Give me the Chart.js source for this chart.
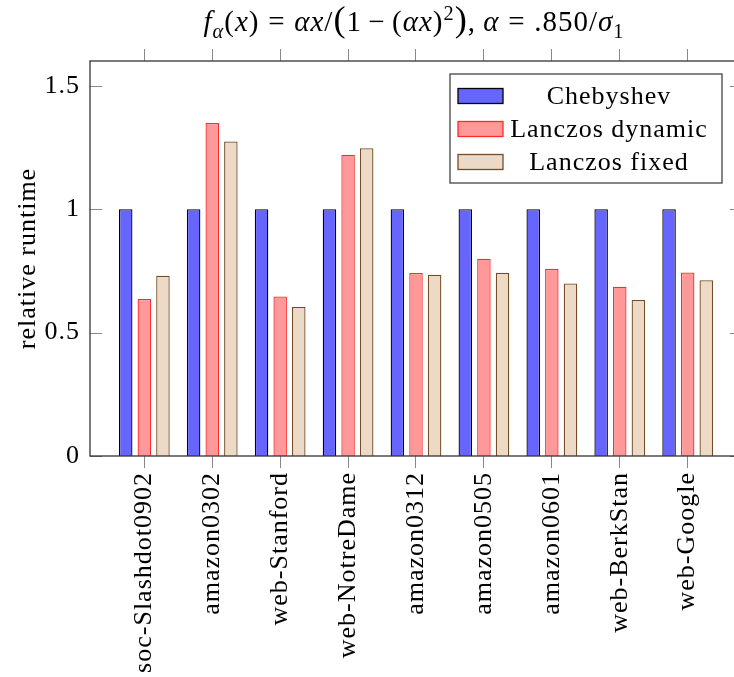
<!DOCTYPE html>
<html>
<head>
<meta charset="utf-8">
<script src="https://cdn.jsdelivr.net/npm/chart.js@4.4.0/dist/chart.umd.min.js"></script>
<style>
html, body { margin: 0; padding: 0; overflow: hidden; background: #fff; }
#wrap { position: relative; width: 734px; height: 677px; overflow: hidden; background: #fff; }
#chart { position: absolute; left: 0; top: 0; }
#title {
  position: absolute; left: 414px; top: 6px; transform: translateX(-50%);
  white-space: nowrap; font-family: "Liberation Serif", "DejaVu Serif", serif;
  font-size: 29px; line-height: 30px; color: #000; letter-spacing: 1px;
}
#title sub, #title sup { font-size: 0.7em; line-height: 0; }
#title .big { font-size: 1.25em; line-height: 0; }
#title .rel { margin: 0 0.3em; }
#title .bin { margin: 0 0.22em; }
#title .sep { margin-right: 0.25em; }
</style>
</head>
<body>
<div id="wrap">
  <canvas id="chart" width="746" height="677"></canvas>
  <div id="title"><i>f</i><sub><i>α</i></sub>(<i>x</i>)<span class="rel">=</span><i>αx</i>/<span class="big">(</span>1<span class="bin">−</span>(<i>αx</i>)<sup>2</sup><span class="big">)</span><span class="sep">,</span><i>α</i><span class="rel">=</span>.850/<i>σ</i><sub>1</sub></div>
</div>
<script>
// ---- data ----
const categories = ["soc-Slashdot0902", "amazon0302", "web-Stanford", "web-NotreDame", "amazon0312", "amazon0505", "amazon0601", "web-BerkStan", "web-Google"];
const seriesNames = ["Chebyshev", "Lanczos dynamic", "Lanczos fixed"];
const chebyshev = [1, 1, 1, 1, 1, 1, 1, 1, 1];
const lanczosDynamic = [0.636, 1.349, 0.646, 1.220, 0.741, 0.799, 0.758, 0.686, 0.743];
const lanczosFixed = [0.730, 1.274, 0.604, 1.247, 0.734, 0.742, 0.699, 0.632, 0.712];
const yTicks = [0, 0.5, 1, 1.5];
const yTitle = "relative runtime";

const FONT = '"Liberation Serif", "DejaVu Serif", serif';
const toPoints = vals => vals.map((v, i) => ({ x: i, y: v }));

const framePlugin = {
  id: 'frame',
  beforeDraw(chart) { chart.ctx.letterSpacing = '1px'; },
  afterDraw(chart) {
    const { ctx, chartArea: a, scales } = chart;
    const y = scales.y;
    ctx.save();
    // inward y ticks on both sides
    ctx.strokeStyle = '#888';
    ctx.lineWidth = 1;
    y.ticks.forEach(t => {
      const py = Math.round(y.getPixelForValue(t.value)) + 0.5;
      ctx.beginPath();
      ctx.moveTo(a.left, py); ctx.lineTo(a.left + 12, py);
      ctx.moveTo(a.right - 12, py); ctx.lineTo(a.right, py);
      ctx.stroke();
    });
    // axis box
    ctx.strokeStyle = '#333';
    ctx.lineWidth = 1.3;
    ctx.strokeRect(a.left, a.top, a.right - a.left, a.bottom - a.top);
    // legend
    const bw = 272, bh = 109;
    const bx = a.right - 20 - bw, by = a.top + 13;
    ctx.fillStyle = '#fff';
    ctx.fillRect(bx, by, bw, bh);
    ctx.strokeStyle = '#444';
    ctx.lineWidth = 1.3;
    ctx.strokeRect(bx, by, bw, bh);
    ctx.font = '26px ' + FONT;
    ctx.textAlign = 'center';
    ctx.textBaseline = 'alphabetic';
    chart.data.datasets.forEach((ds, i) => {
      const cy = by + 22 + i * 33;
      ctx.fillStyle = ds.backgroundColor;
      ctx.fillRect(bx + 8, cy - 7.5, 45, 15);
      ctx.strokeStyle = ds.borderColor;
      ctx.lineWidth = 1.3;
      ctx.strokeRect(bx + 8, cy - 7.5, 45, 15);
      ctx.fillStyle = '#000';
      ctx.fillText(ds.label, bx + 159, cy + 8);
    });
    ctx.restore();
  }
};

const catTicks = s => { s.ticks = categories.map((c, i) => ({ value: i })); };

new Chart(document.getElementById('chart'), {
  type: 'bar',
  data: {
    datasets: [
      { label: seriesNames[0], data: toPoints(chebyshev), backgroundColor: '#6666ff', borderColor: '#000000', borderWidth: 1.3 },
      { label: seriesNames[1], data: toPoints(lanczosDynamic), backgroundColor: '#ff9999', borderColor: '#ff2a2a', borderWidth: 1.3 },
      { label: seriesNames[2], data: toPoints(lanczosFixed), backgroundColor: '#ecd9c6', borderColor: '#734d26', borderWidth: 1.3 }
    ]
  },
  options: {
    responsive: false,
    animation: false,
    devicePixelRatio: 1,
    categoryPercentage: 0.822,
    barPercentage: 0.726,
    layout: { padding: { top: 49, right: 4, bottom: 0, left: 0 } },
    plugins: { legend: { display: false }, title: { display: false }, tooltip: { enabled: false } },
    scales: {
      x: {
        type: 'linear', position: 'bottom', min: -0.8, max: 8.8, offset: false,
        afterBuildTicks: catTicks,
        afterFit: s => { s.height = 221; },
        grid: { display: true, offset: false, drawOnChartArea: false, drawTicks: true, tickLength: 12, color: '#888', lineWidth: 1 },
        border: { display: false },
        ticks: {
          autoSkip: false, minRotation: 90, maxRotation: 90, padding: 4, color: '#000',
          font: { family: FONT, size: 26 },
          callback: v => categories[v]
        }
      },
      x2: {
        type: 'linear', position: 'top', min: -0.8, max: 8.8, offset: false,
        afterBuildTicks: catTicks,
        afterFit: s => { s.height = 12; },
        grid: { display: true, offset: false, drawOnChartArea: false, drawTicks: true, tickLength: 12, color: '#888', lineWidth: 1 },
        border: { display: false },
        ticks: { display: false }
      },
      y: {
        type: 'linear', position: 'left', min: 0, max: 1.6,
        afterBuildTicks: s => { s.ticks = yTicks.map(v => ({ value: v })); },
        afterFit: s => { s.width = 90; },
        grid: { display: false, drawTicks: false },
        border: { display: false },
        ticks: { padding: 10, color: '#000', font: { family: FONT, size: 26 }, callback: v => String(v) },
        title: { display: true, text: yTitle, color: '#000', font: { family: FONT, size: 26 }, padding: { top: 13, bottom: 0 } }
      }
    }
  },
  plugins: [framePlugin]
});
</script>
</body>
</html>
